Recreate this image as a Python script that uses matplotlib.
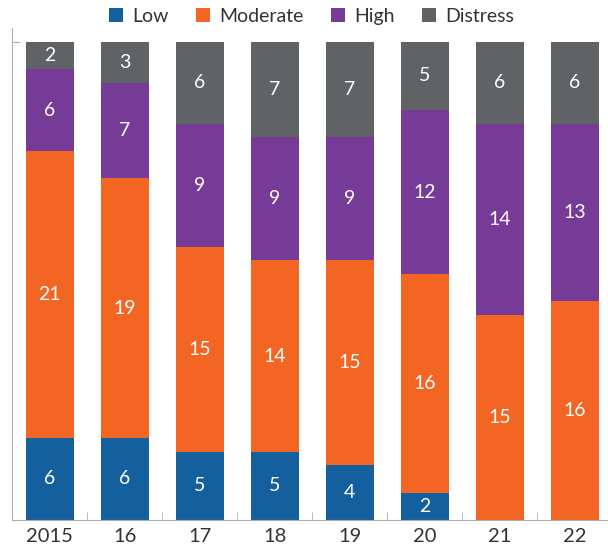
import matplotlib.pyplot as plt
import numpy as np

plt.rcParams['font.family'] = ['Lato', 'DejaVu Sans']

# data
years = ["2015", "16", "17", "18", "19", "20", "21", "22"]
series = ["Low", "Moderate", "High", "Distress"]
low = [6, 6, 5, 5, 4, 2, 0, 0]
moderate = [21, 19, 15, 14, 15, 16, 15, 16]
high = [6, 7, 9, 9, 9, 12, 14, 13]
distress = [2, 3, 6, 7, 7, 5, 6, 6]
colors = ["#14609e", "#f26522", "#763a97", "#5f6366"]

fig = plt.figure(figsize=(6.08, 5.52), dpi=100)
ax = fig.add_axes([12 / 608, 32 / 552, 596 / 608, 492 / 552])

x = np.arange(len(years))
bottom = np.zeros(len(years))
for name, vals, col in zip(series, [low, moderate, high, distress], colors):
    vals = np.array(vals)
    ax.bar(x, vals, width=0.64, bottom=bottom, color=col, label=name)
    for xi, b, v in zip(x, bottom, vals):
        if v > 0:
            ax.text(xi, b + v / 2, str(v), ha="center", va="center",
                    color="white", fontsize=14)
    bottom += vals

ax.set_xlim(-0.5, 7.44)
ax.set_ylim(0, 36)
ax.set_yticks([35])
ax.set_yticklabels([])
ax.tick_params(axis="y", direction="in", length=6, color="#b0b0b0")
ax.set_xticks(x)
ax.set_xticklabels(years, fontsize=14.5, color="#333333")
ax.tick_params(axis="x", length=0, pad=6)
ax.set_xticks(np.arange(0.5, len(years) - 0.5), minor=True)
ax.tick_params(axis="x", which="minor", direction="in", length=6, color="#b0b0b0")

for s in ["top", "right"]:
    ax.spines[s].set_visible(False)
for s in ["left", "bottom"]:
    ax.spines[s].set_color("#b0b0b0")

fig.legend(loc="center", bbox_to_anchor=(0.512, 0.971), ncol=4, frameon=False,
           fontsize=14, handlelength=0.75, handleheight=0.75, handletextpad=0.45,
           columnspacing=1.4, labelcolor="#333333")

fig.savefig("out.png", dpi=100)
